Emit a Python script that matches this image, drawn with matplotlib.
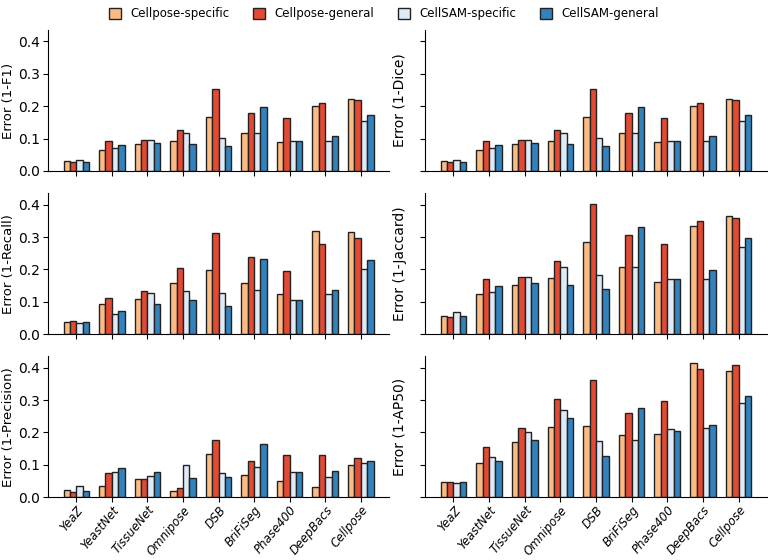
import matplotlib
matplotlib.use("Agg")
import matplotlib.pyplot as plt
import numpy as np

datasets = ["YeaZ", "YeastNet", "TissueNet", "Omnipose", "DSB", "BriFiSeg", "Phase400", "DeepBacs", "Cellpose"]
models = ["Cellpose-specific", "Cellpose-general", "CellSAM-specific", "CellSAM-general"]
colors = ["#fdbb84", "#e34a33", "#deebf7", "#3182bd"]

f1_cp_spec = [0.030, 0.065, 0.083, 0.094, 0.166, 0.116, 0.088, 0.200, 0.223]
f1_cp_gen = [0.027, 0.092, 0.096, 0.127, 0.252, 0.180, 0.162, 0.211, 0.219]
f1_cs_spec = [0.035, 0.071, 0.097, 0.116, 0.101, 0.116, 0.094, 0.094, 0.155]
f1_cs_gen = [0.028, 0.080, 0.086, 0.082, 0.076, 0.197, 0.093, 0.109, 0.173]

dice_cp_spec = [0.030, 0.065, 0.083, 0.094, 0.166, 0.116, 0.088, 0.200, 0.223]
dice_cp_gen = [0.027, 0.092, 0.096, 0.127, 0.252, 0.180, 0.162, 0.211, 0.219]
dice_cs_spec = [0.035, 0.071, 0.097, 0.116, 0.101, 0.116, 0.094, 0.094, 0.155]
dice_cs_gen = [0.028, 0.080, 0.086, 0.082, 0.076, 0.197, 0.093, 0.109, 0.173]

recall_cp_spec = [0.037, 0.094, 0.110, 0.159, 0.197, 0.157, 0.123, 0.319, 0.317]
recall_cp_gen = [0.040, 0.112, 0.135, 0.206, 0.314, 0.240, 0.195, 0.278, 0.296]
recall_cs_spec = [0.034, 0.064, 0.126, 0.133, 0.128, 0.138, 0.107, 0.125, 0.202]
recall_cs_gen = [0.039, 0.071, 0.095, 0.106, 0.088, 0.232, 0.107, 0.137, 0.228]

jacc_cp_spec = [0.058, 0.123, 0.153, 0.173, 0.286, 0.207, 0.161, 0.334, 0.366]
jacc_cp_gen = [0.054, 0.170, 0.176, 0.225, 0.403, 0.306, 0.279, 0.349, 0.359]
jacc_cs_spec = [0.068, 0.132, 0.176, 0.208, 0.184, 0.207, 0.171, 0.172, 0.269]
jacc_cs_gen = [0.055, 0.148, 0.158, 0.151, 0.141, 0.332, 0.170, 0.198, 0.296]

prec_cp_spec = [0.024, 0.034, 0.056, 0.020, 0.135, 0.070, 0.051, 0.031, 0.100]
prec_cp_gen = [0.015, 0.074, 0.056, 0.028, 0.178, 0.111, 0.129, 0.131, 0.122]
prec_cs_spec = [0.035, 0.077, 0.065, 0.099, 0.074, 0.092, 0.079, 0.062, 0.105]
prec_cs_gen = [0.019, 0.091, 0.077, 0.058, 0.063, 0.163, 0.077, 0.080, 0.111]

ap50_cp_spec = [0.048, 0.107, 0.172, 0.216, 0.220, 0.191, 0.196, 0.414, 0.391]
ap50_cp_gen = [0.048, 0.155, 0.213, 0.303, 0.361, 0.261, 0.297, 0.395, 0.408]
ap50_cs_spec = [0.043, 0.123, 0.201, 0.268, 0.173, 0.178, 0.211, 0.215, 0.290]
ap50_cs_gen = [0.048, 0.113, 0.177, 0.244, 0.126, 0.275, 0.206, 0.223, 0.312]

panels = [
    ("Error (1-F1)", [f1_cp_spec, f1_cp_gen, f1_cs_spec, f1_cs_gen]),
    ("Error (1-Dice)", [dice_cp_spec, dice_cp_gen, dice_cs_spec, dice_cs_gen]),
    ("Error (1-Recall)", [recall_cp_spec, recall_cp_gen, recall_cs_spec, recall_cs_gen]),
    ("Error (1-Jaccard)", [jacc_cp_spec, jacc_cp_gen, jacc_cs_spec, jacc_cs_gen]),
    ("Error (1-Precision)", [prec_cp_spec, prec_cp_gen, prec_cs_spec, prec_cs_gen]),
    ("Error (1-AP50)", [ap50_cp_spec, ap50_cp_gen, ap50_cs_spec, ap50_cs_gen]),
]

fig = plt.figure(figsize=(7.68, 5.6), dpi=100)
W, H = 768.0, 560.0
lefts = [48 / W, 425 / W]
widths = [(389 - 48) / W, (767 - 425) / W]
bottoms_px = [171, 334.3, 497.3]
ax_h = 141 / H

x = np.arange(len(datasets))
bw = 0.18
handles = None
for i, (ylabel, series) in enumerate(panels):
    r, c = divmod(i, 2)
    ax = fig.add_axes([lefts[c], 1 - bottoms_px[r] / H, widths[c], ax_h])
    hs = []
    for k, (vals, col) in enumerate(zip(series, colors)):
        h = ax.bar(x + (k - 1.5) * bw, vals, width=bw, color=col,
                   edgecolor="#222222", linewidth=1.0, label=models[k])
        hs.append(h)
    handles = hs
    ax.set_ylim(0, 0.435)
    ax.set_yticks([0.0, 0.1, 0.2, 0.3, 0.4])
    ax.spines["top"].set_visible(False)
    ax.spines["right"].set_visible(False)
    ax.set_xticks(x)
    if c == 1:
        ax.set_yticklabels([])
        ax.set_ylabel(ylabel, fontsize=10, labelpad=6)
    else:
        ax.tick_params(axis="y", labelsize=10, pad=2.5)
        ax.set_ylabel(ylabel, fontsize=9.5, labelpad=2)
    if r == 2:
        ax.tick_params(axis="x", pad=1)
        ax.set_xticklabels(datasets, rotation=50, ha="right", rotation_mode="anchor",
                           fontstyle="italic", fontsize=8.5)
    else:
        ax.set_xticklabels([])

fig.legend(handles, models, loc="center", bbox_to_anchor=(0.5, 1 - 14 / H), ncol=4,
           frameon=False, fontsize=8.5, handlelength=1.0, handleheight=1.0,
           columnspacing=2.0, handletextpad=0.8)

fig.savefig("out.png", dpi=100)
